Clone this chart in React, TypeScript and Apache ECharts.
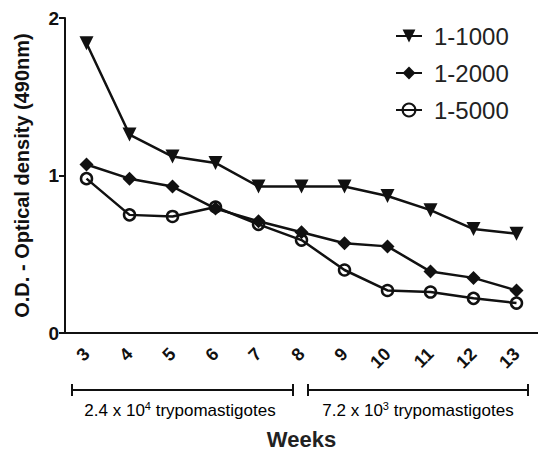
import React, { useEffect, useRef } from "react";
import * as echarts from "echarts";

const weeks = ["3", "4", "5", "6", "7", "8", "9", "10", "11", "12", "13"];
const series1000 = [1.84, 1.26, 1.12, 1.08, 0.93, 0.93, 0.93, 0.87, 0.78, 0.66, 0.63];
const series2000 = [1.07, 0.98, 0.93, 0.79, 0.71, 0.64, 0.57, 0.55, 0.39, 0.35, 0.27];
const series5000 = [0.98, 0.75, 0.74, 0.80, 0.69, 0.59, 0.40, 0.27, 0.26, 0.22, 0.19];
const yTicks = [0, 1, 2];

export default function App() {
  const ref = useRef<HTMLDivElement>(null);
  useEffect(() => {
    if (!ref.current) return;
    const chart = echarts.init(ref.current, null, { renderer: "svg" });
    const lineColor = "#111";
    const bracket = (x1: number, x2: number, y: number) => [
      { type: "line", shape: { x1, y1: y, x2, y2: y }, style: { stroke: lineColor, lineWidth: 2 } },
      { type: "line", shape: { x1, y1: y - 6, x2: x1, y2: y + 6 }, style: { stroke: lineColor, lineWidth: 2 } },
      { type: "line", shape: { x1: x2, y1: y - 6, x2, y2: y + 6 }, style: { stroke: lineColor, lineWidth: 2 } },
    ];
    const rich = {
      n: { fontSize: 17, fontFamily: "Liberation Sans, Arial", color: "#333" },
      sup: { fontSize: 11, fontFamily: "Liberation Sans, Arial", color: "#333", verticalAlign: "top", padding: [0, 0, 9, 0] },
    };
    chart.setOption({
      animation: false,
      backgroundColor: "#fff",
      textStyle: { fontFamily: "Liberation Sans, Arial" },
      grid: { left: 65, right: 0, top: 18, bottom: 121 },
      legend: {
        orient: "vertical",
        left: 390,
        top: 19,
        itemGap: 13,
        itemWidth: 26,
        itemHeight: 16,
        textStyle: { fontSize: 24, color: "#222", padding: [0, 0, 0, 7] },
        data: ["1-1000", "1-2000", "1-5000"],
      },
      xAxis: {
        type: "category",
        data: weeks,
        boundaryGap: true,
        name: "Weeks",
        nameLocation: "middle",
        nameGap: 95,
        nameTextStyle: { fontSize: 22, fontWeight: "bold", color: "#222" },
        axisLine: { lineStyle: { color: lineColor, width: 2 } },
        axisTick: { alignWithLabel: true, length: 7, lineStyle: { width: 2, color: lineColor } },
        axisLabel: { rotate: 45, fontSize: 18, fontWeight: "bold", color: "#111", margin: 18 },
      },
      yAxis: {
        type: "value",
        min: yTicks[0],
        max: yTicks[yTicks.length - 1],
        interval: 1,
        name: "O.D. - Optical density (490nm)",
        nameLocation: "middle",
        nameGap: 33,
        nameTextStyle: { fontSize: 20, fontWeight: "bold", color: "#111" },
        splitLine: { show: false },
        axisLine: { show: true, lineStyle: { color: lineColor, width: 2 } },
        axisTick: { show: true, length: 6, lineStyle: { width: 2, color: lineColor } },
        axisLabel: { fontSize: 19, fontWeight: "bold", color: "#111", margin: 6 },
      },
      series: [
        {
          name: "1-1000",
          type: "line",
          data: series1000,
          symbol: "triangle",
          symbolRotate: 180,
          symbolSize: 14,
          lineStyle: { color: lineColor, width: 2.5 },
          itemStyle: { color: lineColor },
        },
        {
          name: "1-2000",
          type: "line",
          data: series2000,
          symbol: "diamond",
          symbolSize: 14,
          lineStyle: { color: lineColor, width: 2.5 },
          itemStyle: { color: lineColor },
        },
        {
          name: "1-5000",
          type: "line",
          data: series5000,
          symbol: "circle",
          symbolSize: 11,
          lineStyle: { color: lineColor, width: 2.5 },
          itemStyle: { color: "rgba(255,255,255,0)", borderColor: lineColor, borderWidth: 2.5 },
        },
      ],
      graphic: [
        ...bracket(72, 293, 390),
        ...bracket(308, 528, 390),
        {
          type: "text",
          x: 180,
          y: 410,
          style: { text: "{n|2.4 x 10}{sup|4}{n| trypomastigotes}", rich, align: "center", verticalAlign: "middle" },
        },
        {
          type: "text",
          x: 418,
          y: 410,
          style: { text: "{n|7.2 x 10}{sup|3}{n| trypomastigotes}", rich, align: "center", verticalAlign: "middle" },
        },
      ],
    });
    return () => chart.dispose();
  }, []);
  return <div ref={ref} style={{ position: "absolute", left: 0, top: 0, width: 538, height: 455 }} />;
}
